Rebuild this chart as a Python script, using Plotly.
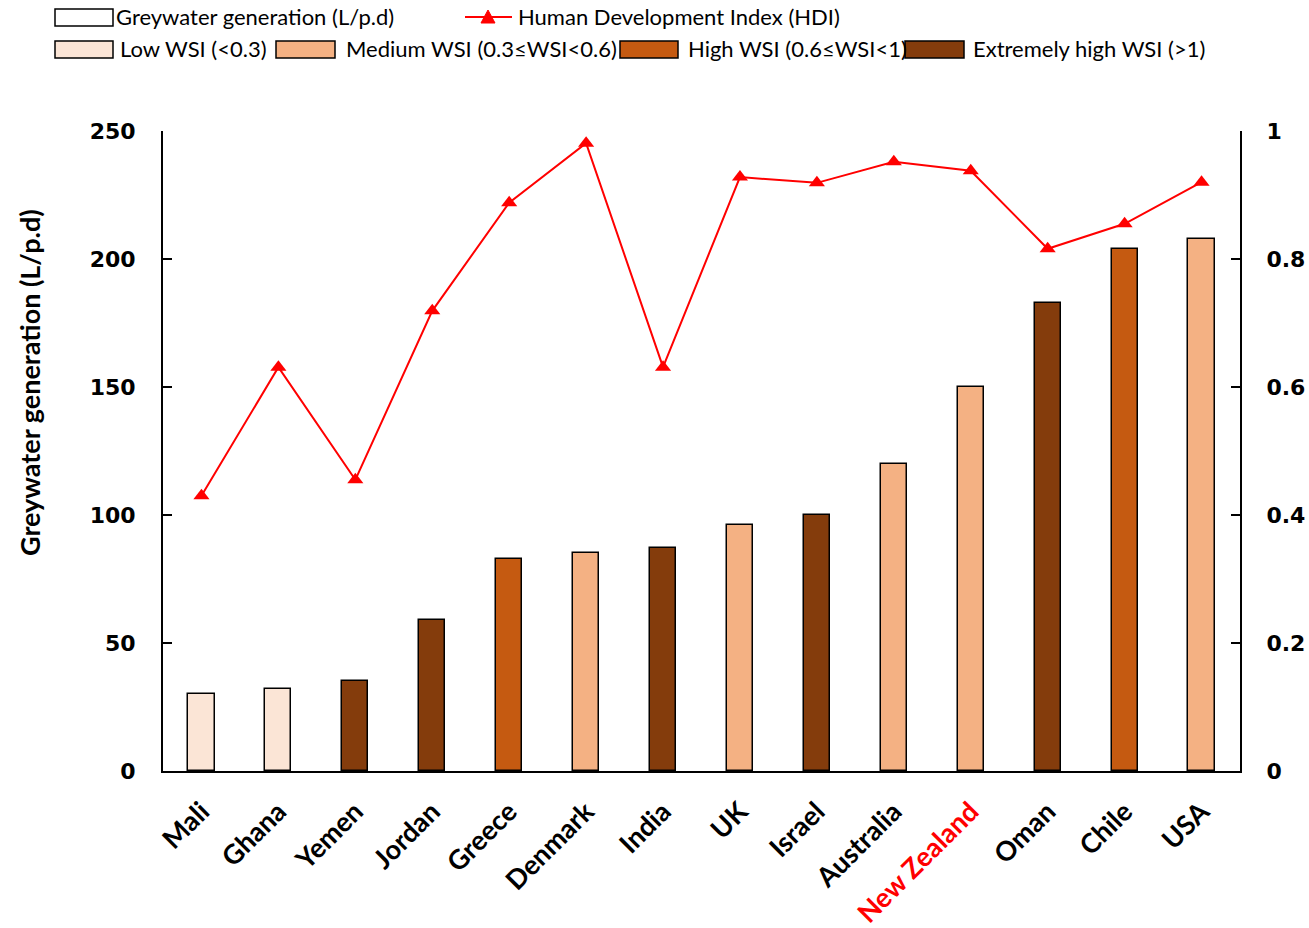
import plotly.graph_objects as go

countries = ["Mali", "Ghana", "Yemen", "Jordan", "Greece", "Denmark", "India", "UK",
             "Israel", "Australia", "New Zealand", "Oman", "Chile", "USA"]
greywater = [30, 32, 35, 59, 83, 85, 87, 96, 100, 120, 150, 183, 204, 208]
hdi = [0.43, 0.631, 0.455, 0.719, 0.888, 0.981, 0.631, 0.928, 0.919, 0.952, 0.938, 0.816, 0.855, 0.92]
wsi_class = ["Low", "Low", "Extreme", "Extreme", "High", "Medium", "Extreme", "Medium",
             "Extreme", "Medium", "Medium", "Extreme", "High", "Medium"]

class_colors = {"Low": "#FBE5D6", "Medium": "#F4B183", "High": "#C55A11", "Extreme": "#843C0C"}
legend_labels = [("Low", "Low WSI (&lt;0.3)"), ("Medium", "Medium WSI (0.3≤WSI&lt;0.6)"),
                 ("High", "High WSI (0.6≤WSI&lt;1)"), ("Extreme", "Extremely high WSI (&gt;1)")]

W, H = 1309, 928
L, R, T, B = 163, 1240, 131, 771  # plot area in pixels

fig = go.Figure()
x_idx = list(range(len(countries)))
fig.add_trace(go.Bar(
    x=x_idx, y=greywater, width=0.34,
    marker=dict(color=[class_colors[c] for c in wsi_class], line=dict(color="black", width=1.5)),
    showlegend=False, name="Greywater generation (L/p.d)"))
fig.add_trace(go.Scatter(
    x=x_idx, y=hdi, yaxis="y2", mode="lines+markers",
    line=dict(color="#FF0000", width=2),
    marker=dict(symbol="triangle-up", size=14, color="#FF0000"),
    showlegend=False, name="Human Development Index (HDI)"))

ticktext = [f'<span style="color:#FF0000">{c}</span>' if c == "New Zealand" else c for c in countries]

fig.update_layout(
    width=W, height=H,
    margin=dict(l=L, r=W - R, t=T, b=H - B),
    paper_bgcolor="white", plot_bgcolor="white",
    bargap=0,
    xaxis=dict(range=[-0.5, 13.5], tickvals=x_idx, ticktext=ticktext, tickangle=-45,
               showline=True, linecolor="black", linewidth=2, ticks="", showgrid=False,
               zeroline=False, automargin=False, ticklabelstandoff=12,
               tickfont=dict(family="Lato", size=27, color="black", weight="bold")),
    yaxis=dict(range=[0, 250], tickvals=[0, 50, 100, 150, 200, 250], showline=True,
               linecolor="black", linewidth=2, ticks="inside", ticklen=9, tickwidth=2,
               tickcolor="black", showgrid=False, zeroline=False, ticklabelstandoff=21,
               automargin=False,
               tickfont=dict(family="DejaVu Sans", size=22, color="black", weight="bold")),
    yaxis2=dict(range=[0, 1], tickvals=[0, 0.2, 0.4, 0.6, 0.8, 1],
                ticktext=["0", "0.2", "0.4", "0.6", "0.8", "1"], overlaying="y", side="right",
                showline=True, linecolor="black", linewidth=2, ticks="inside", ticklen=9,
                tickwidth=2, tickcolor="black", showgrid=False, zeroline=False,
                ticklabelstandoff=20, automargin=False,
                tickfont=dict(family="DejaVu Sans", size=22, color="black", weight="bold")),
)

# pixel -> paper coordinates (paper is relative to plot area)
def px(x):
    return (x - L) / (R - L)
def py(y):
    return (B - y) / (B - T)

shapes = []
annotations = []
font = dict(family="Lato", size=22, color="black")

# y-axis title
annotations.append(dict(xref="paper", yref="paper", x=px(29), y=py(383), text="Greywater generation (L/p.d)",
                        showarrow=False, textangle=-90, xanchor="center", yanchor="middle",
                        font=dict(family="Lato", size=27, color="black", weight="bold")))

# Legend row 1
shapes.append(dict(type="rect", xref="paper", yref="paper", x0=px(55), x1=px(113), y0=py(26), y1=py(9),
                   fillcolor="white", line=dict(color="black", width=1.5)))
annotations.append(dict(xref="paper", yref="paper", x=px(114), y=py(17), text="Greywater generation (L/p.d)",
                        showarrow=False, xanchor="left", yanchor="middle", font=font))
shapes.append(dict(type="line", xref="paper", yref="paper", x0=px(465), x1=px(512), y0=py(17), y1=py(17),
                   line=dict(color="#FF0000", width=2)))
tri = f"M {px(481)},{py(23)} L {px(495)},{py(23)} L {px(488)},{py(10)} Z"
shapes.append(dict(type="path", xref="paper", yref="paper", path=tri,
                   fillcolor="#FF0000", line=dict(color="#FF0000", width=1)))
annotations.append(dict(xref="paper", yref="paper", x=px(516), y=py(17), text="Human Development Index (HDI)",
                        showarrow=False, xanchor="left", yanchor="middle", font=font))
# Legend row 2
row2 = [(55, 113, 118), (276, 335, 344), (620, 678, 686), (905, 964, 971)]
for (key, label), (bx0, bx1, tx) in zip(legend_labels, row2):
    shapes.append(dict(type="rect", xref="paper", yref="paper", x0=px(bx0), x1=px(bx1), y0=py(58), y1=py(41),
                       fillcolor=class_colors[key], line=dict(color="black", width=1.5)))
    annotations.append(dict(xref="paper", yref="paper", x=px(tx), y=py(49), text=label,
                            showarrow=False, xanchor="left", yanchor="middle", font=font))

fig.update_layout(shapes=shapes, annotations=annotations)
fig.write_html("out.html")
